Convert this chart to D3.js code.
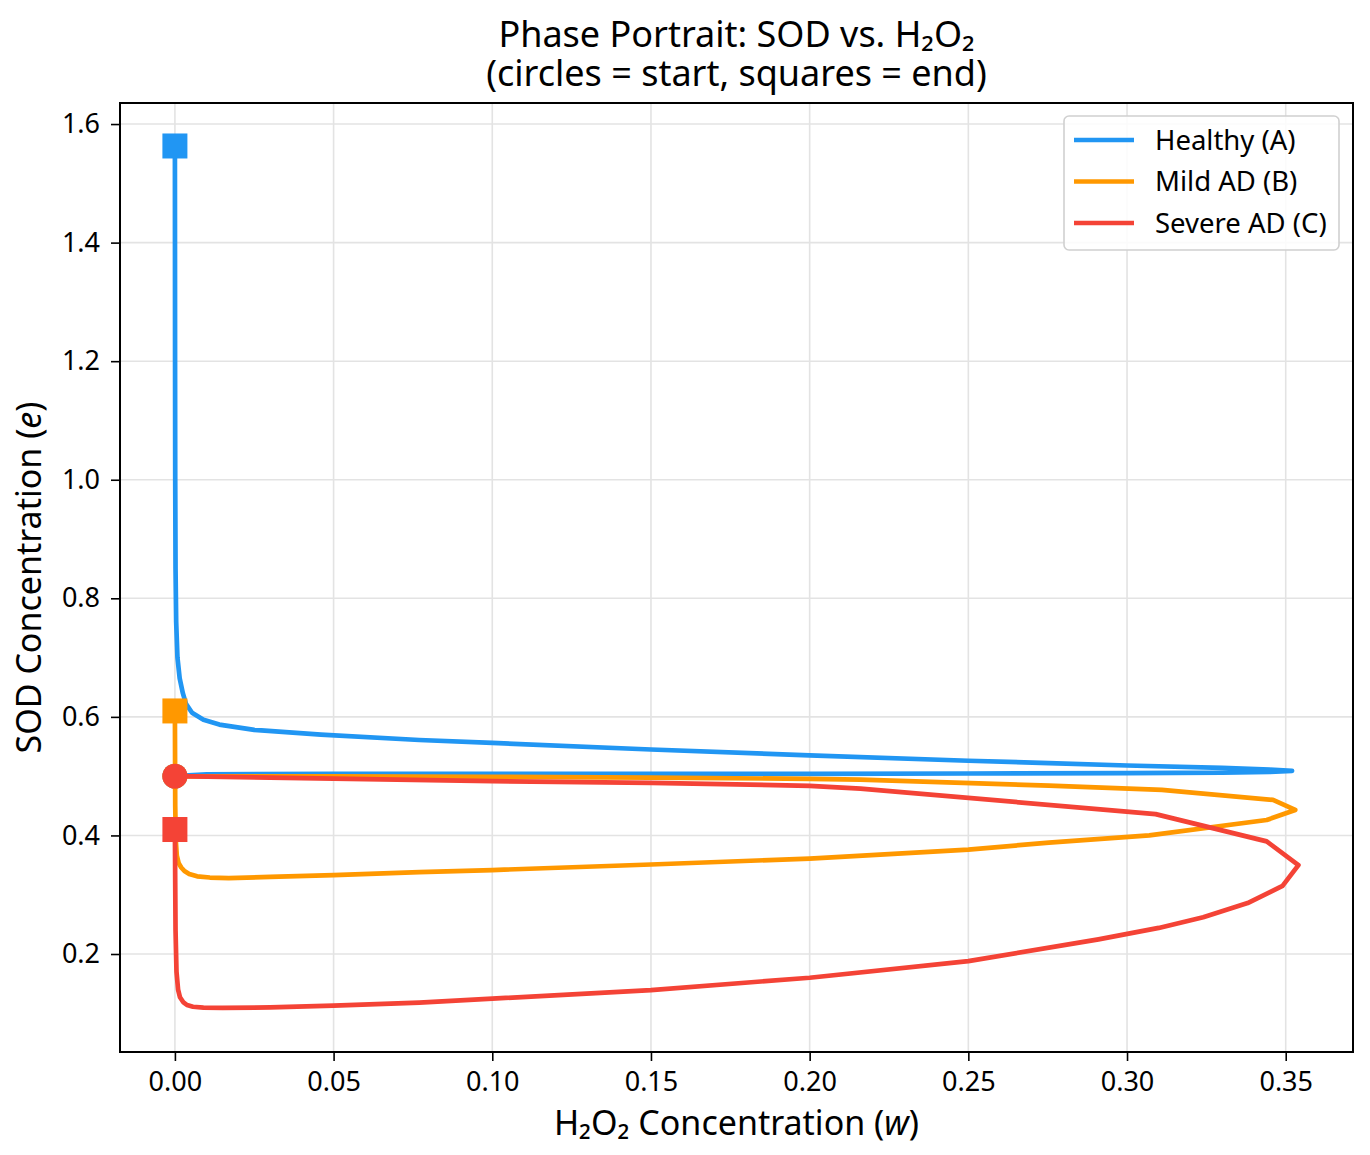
<!DOCTYPE html>
<html lang="en">
<head>
<meta charset="UTF-8">
<title>Phase Portrait</title>
<style>
  * { margin: 0; padding: 0; }
  body { background: #fff; }
  svg { font-family: "Noto Sans", "Open Sans", sans-serif; }
</style>
</head>
<body>
<div id="chart"></div>
<script src="https://cdn.jsdelivr.net/npm/d3@7"></script>
<script>
// tick values
var xTicks = [0, 0.05, 0.10, 0.15, 0.20, 0.25, 0.30, 0.35]
var yTicks = [0.2, 0.4, 0.6, 0.8, 1.0, 1.2, 1.4, 1.6]

// series: H2O2 (w) and SOD (e)
var names = ['Healthy (A)', 'Mild AD (B)', 'Severe AD (C)']
var colors = ['#2196F3', '#FF9800', '#F44336']

var healthyW = [0, 0.01, 0.05, 0.10, 0.15, 0.20, 0.25, 0.30, 0.33, 0.345, 0.352, 0.345, 0.33, 0.30, 0.2754, 0.25, 0.20, 0.15, 0.10, 0.077, 0.046, 0.025, 0.014, 0.009, 0.0054, 0.0035, 0.0025, 0.0015, 0.0008, 0.0004, 0.0002, 0.0001, 0.00005, 0]
var healthyE = [0.500, 0.503, 0.504, 0.504, 0.504, 0.504, 0.5045, 0.505, 0.506, 0.507, 0.509, 0.511, 0.514, 0.518, 0.522, 0.526, 0.535, 0.545, 0.556, 0.561, 0.570, 0.578, 0.587, 0.595, 0.607, 0.622, 0.640, 0.665, 0.70, 0.76, 0.85, 1.0, 1.2, 1.563]

var mildW = [0, 0.05, 0.10, 0.15, 0.20, 0.216, 0.2754, 0.311, 0.346, 0.353, 0.344, 0.307, 0.2754, 0.25, 0.20, 0.15, 0.10, 0.077, 0.05, 0.03, 0.017, 0.011, 0.007, 0.0045, 0.003, 0.002, 0.0012, 0.0006, 0.0003, 0.0001, 0]
var mildE = [0.500, 0.4995, 0.499, 0.4975, 0.4955, 0.494, 0.484, 0.477, 0.460, 0.443, 0.426, 0.400, 0.388, 0.376, 0.361, 0.351, 0.3416, 0.338, 0.333, 0.330, 0.328, 0.329, 0.331, 0.335, 0.34, 0.346, 0.353, 0.366, 0.39, 0.45, 0.61]

var severeW = [0, 0.05, 0.10, 0.15, 0.20, 0.216, 0.309, 0.344, 0.354, 0.349, 0.338, 0.324, 0.31, 0.291, 0.25, 0.20, 0.15, 0.10, 0.077, 0.05, 0.03, 0.015, 0.009, 0.0057, 0.0038, 0.0026, 0.0016, 0.001, 0.0005, 0.0002, 0.0001, 0]
var severeE = [0.500, 0.496, 0.4915, 0.4888, 0.4837, 0.479, 0.436, 0.390, 0.350, 0.315, 0.286, 0.262, 0.244, 0.2247, 0.188, 0.160, 0.1392, 0.1247, 0.118, 0.113, 0.110, 0.109, 0.1095, 0.111, 0.114, 0.119, 0.127, 0.14, 0.17, 0.24, 0.32, 0.41]

var seriesW = [healthyW, mildW, severeW]
var seriesE = [healthyE, mildE, severeE]

var width = 1370, height = 1155
var margin = {left: 120, top: 103, right: 17, bottom: 103}
var pw = width - margin.left - margin.right
var ph = height - margin.top - margin.bottom
var font = '"Noto Sans", "Open Sans", sans-serif'

var svg = d3.select('#chart').append('svg')
  .attr('width', width).attr('height', height)

var x = d3.scaleLinear().domain([-0.0173, 0.3712]).range([0, pw])
var y = d3.scaleLinear().domain([0.0347, 1.6355]).range([ph, 0])

var g = svg.append('g').attr('transform', `translate(${margin.left},${margin.top})`)

// grid
g.append('g').selectAll('line').data(xTicks).enter().append('line')
  .attr('x1', d => x(d)).attr('x2', d => x(d))
  .attr('y1', 0).attr('y2', ph)
  .attr('stroke', '#e3e3e3').attr('stroke-width', 1.6)
g.append('g').selectAll('line').data(yTicks).enter().append('line')
  .attr('y1', d => y(d)).attr('y2', d => y(d))
  .attr('x1', 0).attr('x2', pw)
  .attr('stroke', '#e3e3e3').attr('stroke-width', 1.6)

var clip = svg.append('clipPath').attr('id', 'plotclip')
clip.append('rect').attr('width', pw).attr('height', ph)

var line = d3.line().x(d => x(d[0])).y(d => y(d[1]))
var plot = g.append('g').attr('clip-path', 'url(#plotclip)')

seriesW.forEach(function (ws, i) {
  var pts = ws.map((w, j) => [w, seriesE[i][j]])
  plot.append('path')
    .datum(pts)
    .attr('d', line)
    .attr('fill', 'none')
    .attr('stroke', colors[i])
    .attr('stroke-width', 4.7)
    .attr('stroke-linejoin', 'round')
    .attr('stroke-linecap', 'round')
  var first = pts[0], last = pts[pts.length - 1]
  plot.append('circle')
    .attr('cx', x(first[0])).attr('cy', y(first[1]))
    .attr('r', 12.5).attr('fill', colors[i])
  plot.append('rect')
    .attr('x', x(last[0]) - 12.5).attr('y', y(last[1]) - 12.5)
    .attr('width', 25).attr('height', 25)
    .attr('fill', colors[i])
})

// axes
var xAxis = g.append('g').attr('transform', `translate(0,${ph})`)
  .call(d3.axisBottom(x).tickValues(xTicks).tickFormat(d3.format('.2f')).tickSize(9).tickPadding(11))
var yAxis = g.append('g')
  .call(d3.axisLeft(y).tickValues(yTicks).tickFormat(d3.format('.1f')).tickSize(9).tickPadding(11))
;[xAxis, yAxis].forEach(function (a) {
  a.select('.domain').remove()
  a.selectAll('line').attr('stroke', '#000').attr('stroke-width', 1.6)
  a.selectAll('text').attr('font-size', 27).attr('fill', '#000').attr('font-family', font)
})

g.append('rect').attr('width', pw).attr('height', ph)
  .attr('fill', 'none').attr('stroke', '#000').attr('stroke-width', 2)

// title, two lines in one text
var cx = margin.left + pw / 2
var title = svg.append('text').attr('y', 47)
  .attr('text-anchor', 'middle').attr('font-size', 36).attr('fill', '#000')
title.append('tspan').attr('x', cx).text('Phase Portrait: SOD vs. H\u2082O\u2082')
title.append('tspan').attr('x', cx).attr('dy', 39).text('(circles = start, squares = end)')

var xl = svg.append('text').attr('x', cx).attr('y', 1135)
  .attr('text-anchor', 'middle').attr('font-size', 34).attr('fill', '#000')
xl.append('tspan').text('H\u2082O\u2082 Concentration (')
xl.append('tspan').attr('font-style', 'italic').text('w')
xl.append('tspan').text(')')

var yl = svg.append('text')
  .attr('transform', `translate(41,${margin.top + ph / 2}) rotate(-90)`)
  .attr('text-anchor', 'middle').attr('font-size', 34).attr('fill', '#000')
yl.append('tspan').text('SOD Concentration (')
yl.append('tspan').attr('font-style', 'italic').text('e')
yl.append('tspan').text(')')

// legend
var lg = svg.append('g').attr('transform', 'translate(1064,116)')
lg.append('rect').attr('width', 275).attr('height', 134).attr('rx', 5)
  .attr('fill', 'rgba(255,255,255,0.85)').attr('stroke', '#d0d0d0').attr('stroke-width', 1.6)
names.forEach(function (n, i) {
  var yy = 24 + i * 41.5
  lg.append('line').attr('x1', 10).attr('x2', 70).attr('y1', yy).attr('y2', yy)
    .attr('stroke', colors[i]).attr('stroke-width', 4.7)
  lg.append('text').attr('x', 91).attr('y', yy).attr('dy', '0.35em')
    .attr('font-size', 27.5).attr('fill', '#000').text(n)
})
</script>
</body>
</html>
